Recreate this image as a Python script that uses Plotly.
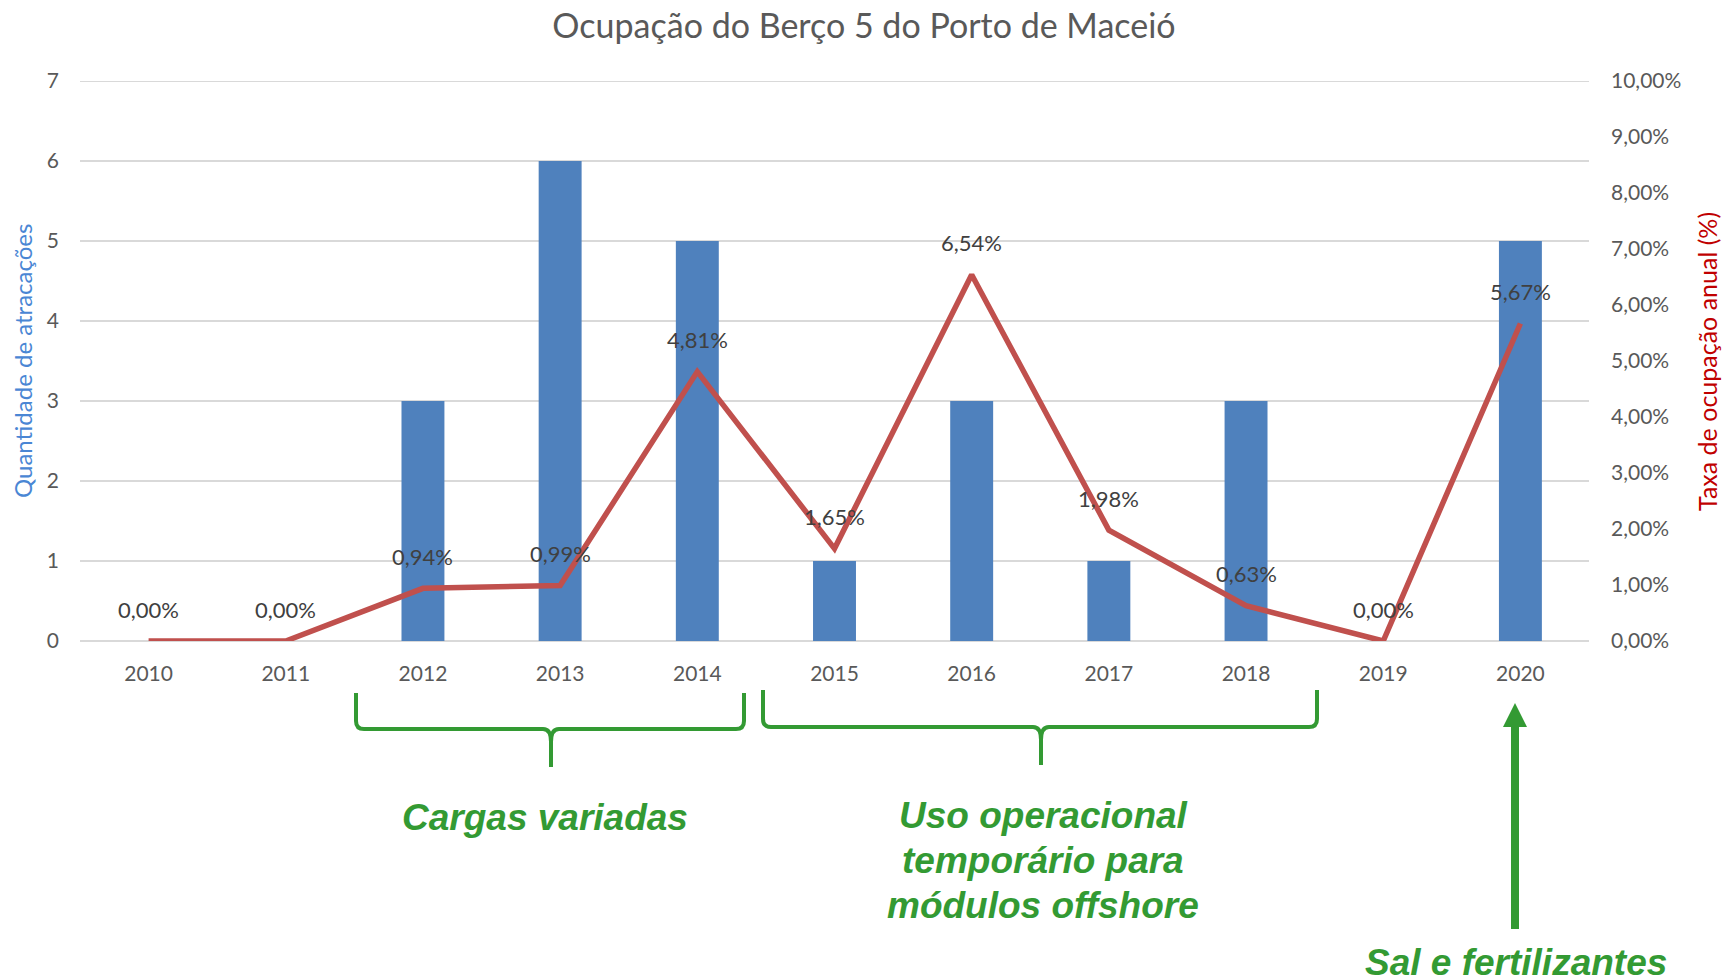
import plotly.graph_objects as go

# ---------------- data ----------------
years = ["2010", "2011", "2012", "2013", "2014", "2015", "2016", "2017", "2018", "2019", "2020"]
atracacoes = [0, 0, 3, 6, 5, 1, 3, 1, 3, 0, 5]
taxa_ocupacao = [0.00, 0.00, 0.94, 0.99, 4.81, 1.65, 6.54, 1.98, 0.63, 0.00, 5.67]
left_ticks = [0, 1, 2, 3, 4, 5, 6, 7]
right_ticks = [0, 1, 2, 3, 4, 5, 6, 7, 8, 9, 10]
right_tick_text = ["0,00%", "1,00%", "2,00%", "3,00%", "4,00%", "5,00%",
                   "6,00%", "7,00%", "8,00%", "9,00%", "10,00%"]
taxa_labels = [f"{v:.2f}%".replace(".", ",") for v in taxa_ocupacao]

title_text = "Ocupação do Berço 5 do Porto de Maceió"
left_title = "Quantidade de atracações"
right_title = "Taxa de ocupação anual (%)"
note_cargas = "Cargas variadas"
note_uso = ["Uso operacional", "temporário para", "módulos offshore"]
note_sal = "Sal e fertilizantes"

# ---------------- layout geometry ----------------
W, H = 1730, 980
OFF = 8                      # page body margin
PL, PT, PW, PH = 80, 81, 1509, 560
ML, MT = PL - OFF, PT - OFF
MR = W - ML - PW
MB = H - MT - PH

def px(x):
    return (x - PL) / PW

def py(y):
    return (PT + PH - y) / PH

BAR = "#4F81BD"
LINE = "#C0504D"
GREEN = "#339A33"
GRID = "#D9D9D9"
TICK = "#595959"
FONT = "Lato, 'Open Sans', sans-serif"
NOTE_FONT = "'Liberation Sans', Arial, sans-serif"

idx = list(range(len(years)))

fig = go.Figure()
fig.add_trace(go.Bar(x=idx, y=atracacoes, marker_color=BAR, marker_line_width=0,
                     name="Atracações", yaxis="y"))
fig.add_trace(go.Scatter(x=idx, y=taxa_ocupacao, mode="lines", name="Taxa",
                         line=dict(color=LINE, width=5.5), yaxis="y2"))

annotations = []
for i, v, lab in zip(idx, taxa_ocupacao, taxa_labels):
    annotations.append(dict(x=i, y=v, xref="x", yref="y2", text=lab, showarrow=False,
                            yshift=32, font=dict(family=FONT, size=22, color="#404040")))

# axis titles
annotations.append(dict(x=px(22), y=py(361), xref="paper", yref="paper", text=left_title,
                        textangle=-90, showarrow=False, xanchor="center", yanchor="middle",
                        font=dict(family=FONT, size=24, color="#4A86D4")))
annotations.append(dict(x=px(1707), y=py(362), xref="paper", yref="paper", text=right_title,
                        textangle=-90, showarrow=False, xanchor="center", yanchor="middle",
                        font=dict(family=FONT, size=25, color="#C00000")))

# green notes
def note(text, x, y):
    annotations.append(dict(x=px(x), y=py(y), xref="paper", yref="paper", text=f"<b><i>{text}</i></b>",
                            showarrow=False, xanchor="center", yanchor="middle",
                            font=dict(family=NOTE_FONT, size=37, color=GREEN)))

note(note_cargas, 545, 817)
for t, yy in zip(note_uso, [815, 860, 905]):
    note(t, 1043, yy)
note(note_sal, 1516, 962)

# braces
def brace(x0, x1, xc, ytop, yh, ytip, r=8):
    pts = [
        f"M {px(x0)},{py(ytop)}",
        f"L {px(x0)},{py(yh - r)}",
        f"Q {px(x0)},{py(yh)} {px(x0 + r)},{py(yh)}",
        f"L {px(xc - r)},{py(yh)}",
        f"Q {px(xc)},{py(yh)} {px(xc)},{py(yh + r * 1.6)}",
        f"L {px(xc)},{py(ytip)}",
        f"M {px(xc)},{py(yh + r * 1.6)}",
        f"Q {px(xc)},{py(yh)} {px(xc + r)},{py(yh)}",
        f"L {px(x1 - r)},{py(yh)}",
        f"Q {px(x1)},{py(yh)} {px(x1)},{py(yh - r)}",
        f"L {px(x1)},{py(ytop)}",
    ]
    return dict(type="path", xref="paper", yref="paper", path=" ".join(pts),
                line=dict(color=GREEN, width=4), layer="above")

shapes = [
    # top gridline (Plotly omits the gridline at the range edge)
    dict(type="line", xref="paper", yref="y", x0=0, x1=1, y0=left_ticks[-1], y1=left_ticks[-1],
         line=dict(color=GRID, width=2), layer="below"),
    brace(356, 744, 551, 693, 729, 767),
    brace(763, 1317, 1041, 690, 727, 765),
    dict(type="line", xref="paper", yref="paper", x0=px(1515), x1=px(1515), y0=py(929), y1=py(724),
         line=dict(color=GREEN, width=8)),
    dict(type="path", xref="paper", yref="paper",
         path=f"M {px(1503)},{py(727)} L {px(1527)},{py(727)} L {px(1515)},{py(703)} Z",
         fillcolor=GREEN, line=dict(color=GREEN, width=0)),
]

fig.update_layout(
    width=W, height=H,
    margin=dict(l=ML, r=MR, t=MT, b=MB, autoexpand=False),
    paper_bgcolor="white", plot_bgcolor="white",
    showlegend=False,
    bargap=0.687,
    title=dict(text=title_text, xref="container", x=(864 - OFF) / W, xanchor="center",
               yref="container", y=1 - (26 - OFF) / H, yanchor="middle",
               font=dict(family=FONT, size=34, color="#595959")),
    font=dict(family=FONT, size=21, color=TICK),
    xaxis=dict(range=[-0.5, len(years) - 0.5], tickmode="array", tickvals=idx, ticktext=years,
               showgrid=False, showline=False, zeroline=False, ticks="",
               tickfont=dict(family=FONT, size=21, color=TICK), ticklabelstandoff=18),
    yaxis=dict(range=[0, left_ticks[-1]], tickmode="array", tickvals=left_ticks,
               showgrid=True, gridcolor=GRID, gridwidth=2,
               zeroline=True, zerolinecolor=GRID, zerolinewidth=2, showline=False, ticks="",
               tickfont=dict(family=FONT, size=21, color=TICK), ticklabelstandoff=20),
    yaxis2=dict(range=[0, right_ticks[-1]], tickmode="array", tickvals=right_ticks,
                ticktext=right_tick_text,
                overlaying="y", side="right", showgrid=False,
                zeroline=False, showline=False, ticks="",
                tickfont=dict(family=FONT, size=21, color=TICK), ticklabelstandoff=21),
    annotations=annotations,
    shapes=shapes,
)

fig.write_html("out.html")
